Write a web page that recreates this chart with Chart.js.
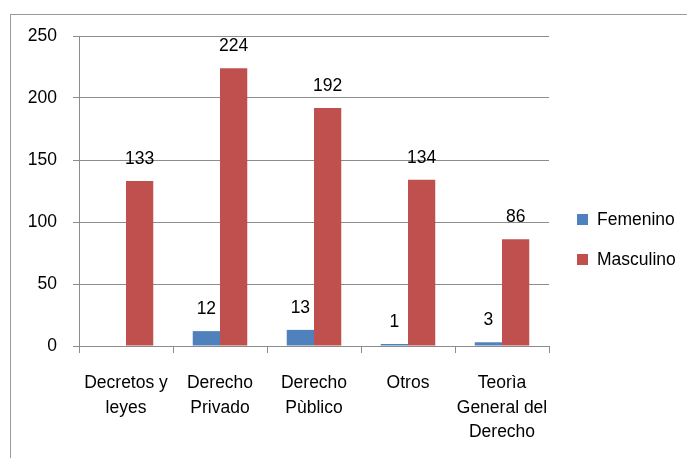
<!DOCTYPE html>
<html lang="es">
<head>
  <meta charset="UTF-8" />
  <title>Femenino / Masculino</title>
  <script src="https://cdn.jsdelivr.net/npm/chart.js"></script>
  <style>
    html, body {
      margin: 0;
      padding: 0;
      background: #fff;
      overflow: hidden;
    }
    .frame {
      position: absolute;
      left: 10px;
      top: 14px;
      width: 800px;
      height: 600px;
      border-top: 1px solid #9a9a9a;
      border-left: 1px solid #9a9a9a;
    }
    .chart-box {
      position: absolute;
      left: 0;
      top: 0;
      width: 687px;
      height: 458px;
    }
  </style>
</head>
<body>
  <div class="frame"></div>
  <div class="chart-box">
    <canvas id="myChart" width="687" height="458"></canvas>
  </div>

  <script>
    // data
    const categories = [
      ['Decretos y', 'leyes'],
      ['Derecho', 'Privado'],
      ['Derecho', 'Pùblico'],
      ['Otros'],
      ['Teorìa', 'General del', 'Derecho']
    ];
    const femenino = [null, 12, 13, 1, 3];
    const masculino = [133, 224, 192, 134, 86];
    const yTicks = [0, 50, 100, 150, 200, 250];

    const FONT = '"Liberation Sans", Arial, sans-serif';
    const TEXT = '#000';

    // value labels above each bar
    const valueLabels = {
      id: 'valueLabels',
      afterDatasetsDraw(chart) {
        const ctx = chart.ctx;
        ctx.save();
        ctx.font = '17.5px ' + FONT;
        ctx.fillStyle = TEXT;
        ctx.textAlign = 'center';
        ctx.textBaseline = 'middle';
        chart.data.datasets.forEach((ds, i) => {
          chart.getDatasetMeta(i).data.forEach((bar, j) => {
            const v = ds.data[j];
            if (v === null || v === undefined) return;
            ctx.fillText(String(v), bar.x, bar.y - 22);
          });
        });
        ctx.restore();
      }
    };

    // legend on the right, like the original
    const sideLegend = {
      id: 'sideLegend',
      afterDraw(chart) {
        const ctx = chart.ctx;
        ctx.save();
        ctx.font = '17.5px ' + FONT;
        ctx.textBaseline = 'middle';
        ctx.textAlign = 'left';
        chart.data.datasets.forEach((ds, i) => {
          const y = 219 + i * 40;
          ctx.fillStyle = ds.backgroundColor;
          ctx.fillRect(577, y - 5, 11, 11);
          ctx.fillStyle = TEXT;
          ctx.fillText(ds.label, 597, y + 1);
        });
        ctx.restore();
      }
    };

    const ctx = document.getElementById('myChart').getContext('2d');
    const myChart = new Chart(ctx, {
      type: 'bar',
      data: {
        labels: categories,
        datasets: [
          {
            label: 'Femenino',
            data: femenino,
            backgroundColor: '#4F81BD',
            categoryPercentage: 0.58,
            barPercentage: 1,
            minBarLength: 2
          },
          {
            label: 'Masculino',
            data: masculino,
            backgroundColor: '#C0504D',
            categoryPercentage: 0.58,
            barPercentage: 1
          }
        ]
      },
      options: {
        responsive: false,
        animation: false,
        layout: {
          padding: { left: 0, top: 36, right: 138, bottom: 0 }
        },
        plugins: {
          legend: { display: false },
          tooltip: { enabled: false }
        },
        scales: {
          x: {
            grid: {
              drawOnChartArea: false,
              drawTicks: true,
              tickLength: 7,
              color: '#8c8c8c'
            },
            border: { color: '#8c8c8c', width: 1 },
            ticks: {
              color: TEXT,
              font: { family: FONT, size: 17.5, lineHeight: 1.4 },
              padding: 18,
              maxRotation: 0,
              autoSkip: false
            },
            afterFit(scale) { scale.height = 112; }
          },
          y: {
            min: 0,
            max: 250,
            afterBuildTicks(scale) {
              scale.ticks = yTicks.map(v => ({ value: v }));
            },
            grid: {
              color: '#8c8c8c',
              tickLength: 6
            },
            border: { color: '#8c8c8c', width: 1 },
            ticks: {
              color: TEXT,
              font: { family: FONT, size: 17.5 },
              padding: 16
            },
            afterFit(scale) { scale.width = 79; }
          }
        }
      },
      plugins: [valueLabels, sideLegend]
    });
  </script>
</body>
</html>
